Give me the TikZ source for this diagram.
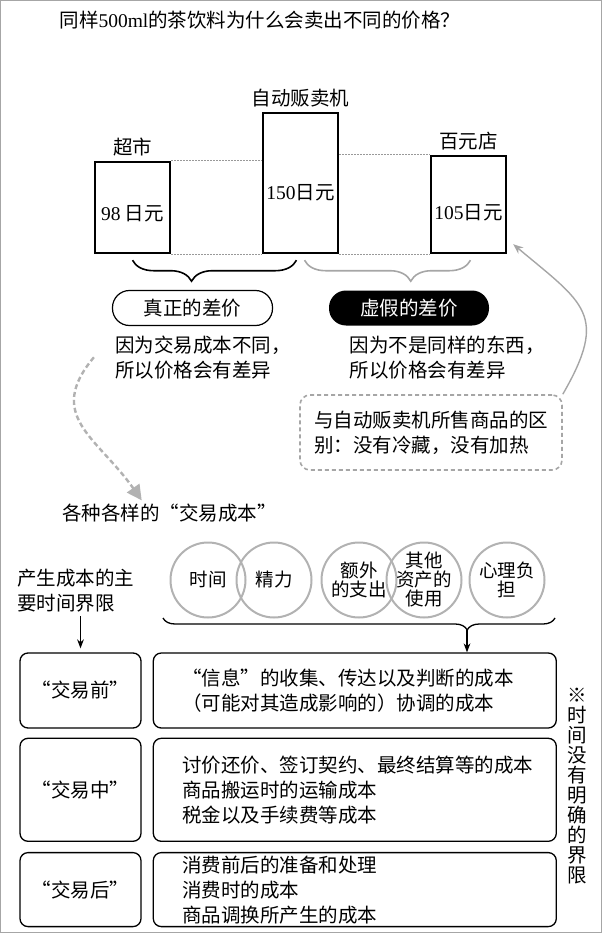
\documentclass[tikz,border=0pt]{standalone}
\usepackage{fontspec}
\setmainfont{Noto Sans CJK SC}
\newfontfamily\latin{Liberation Serif}
\usetikzlibrary{positioning}
\usetikzlibrary{arrows.meta}
\usetikzlibrary{decorations.pathreplacing}

\tikzset{
  price/.style={draw, line width=2.4pt, minimum width=75pt, inner sep=0pt},
  pill/.style={rounded corners=17pt, minimum width=160pt, minimum height=35pt, line width=1.2pt},
  note/.style={draw=gray!70, dash pattern=on 4pt off 3pt, line width=1.6pt, rounded corners=10pt, minimum width=262pt, minimum height=75pt, align=left},
  circ/.style={circle, draw=gray!60, line width=2pt, minimum size=75pt, inner sep=-3pt, align=center, on grid, font=\fontsize{18.5}{19}\selectfont},
  stage/.style={draw, rounded corners=8pt, line width=1.3pt, minimum width=121pt},
  costs/.style={draw, rounded corners=8pt, line width=1.3pt, text width=345pt, inner xsep=29pt, inner ysep=0pt, align=left},
  brc/.style={decorate, decoration={brace, mirror, amplitude=#1}},
}

\begin{document}
\begin{tikzpicture}[x=1pt, y=1pt, font=\fontsize{19.5}{25}\selectfont]
\useasboundingbox (0,0) rectangle (602,-933);
\draw[gray!70, line width=1pt] (0.5,-0.5) rectangle (601.5,-932.5);
\node[anchor=west] (title) at (56,-20) {同样{\latin 500ml}的茶饮料为什么会卖出不同的价格？};

\node[price, minimum height=91pt, label={[yshift=-6pt]center:{\latin 98} 日元}] (shop) at (132.5,-207.5) {};
\node[price, minimum height=140pt, label={[yshift=-10pt]center:{\latin 150}日元}] (vending) at (300.5,-183) {};
\node[price, minimum height=97pt, label={[yshift=-8pt]center:{\latin 105}日元}] (dollar) at (468.5,-204.5) {};
\node[above=1pt of shop] {超市};
\node[above=1pt of vending] {自动贩卖机};
\node[above=1pt of dollar] {百元店};
\draw[gray!80, line width=0.9pt, dash pattern=on 1.5pt off 1.5pt] (shop.north east) -- (shop.north east -| vending.west)
  (vending.east |- dollar.north) -- (dollar.north west)
  (shop.south east) -- (vending.south west)
  (vending.south east) -- (dollar.south west);

\draw[brc=21pt, decoration={aspect=0.36}, line width=1.6pt] ([yshift=-6pt]shop.south) -- ([xshift=-4pt,yshift=-6pt]vending.south);
\draw[brc=21pt, decoration={aspect=0.64}, line width=1.6pt, gray!70] ([xshift=4pt,yshift=-6pt]vending.south) -- ([xshift=2pt,yshift=-6pt]dollar.south);

\node[pill, draw] (real) at (192.5,-308) {真正的差价};
\node[pill, fill=black, text=white] (fake) at (409,-308) {虚假的差价};
\node[below=6pt of real.south west, anchor=north west, align=left] (realwhy) {因为交易成本不同，\\所以价格会有差异};
\node[below=6pt of fake.south west, anchor=north west, xshift=18pt, align=left] (fakewhy) {因为不是同样的东西，\\所以价格会有差异};
\node[note] (diff) at (431,-432.5) {与自动贩卖机所售商品的区\\别：没有冷藏，没有加热};
\draw[-{Stealth[length=10pt, width=8pt]}, gray!70, line width=1.4pt] (diff.north east) to[out=60, in=-40, looseness=1.5] ([shift={(6pt,10pt)}]dollar.south east);

\node[anchor=west] (kinds) at (58.7,-513) {各种各样的“交易成本”};
\draw[gray!60, line width=2.4pt, dash pattern=on 5pt off 3pt, -{Triangle[length=15pt, width=15pt]}] ([xshift=-18pt]realwhy.west) to[out=230, in=125, looseness=1.3] ([xshift=83pt]kinds.north west);

\node[anchor=north west, align=left] (bound) at (13.7,-566) {产生成本的主\\要时间界限};
\node[circ] (time) at (208,-580) {时间};
\node[circ, right=66pt of time] (energy) {精力};
\node[circ, right=85pt of energy] (extra) {额外\\的支出};
\node[circ, right=65pt of extra] (assets) {其他\\资产的\\使用};
\node[circ, right=83pt of assets] (mind) {心理负\\担};
\coordinate (bl) at (163,-618);
\coordinate (br) at (555,-618);
\coordinate (tip) at (467,-630);
\draw[brc=12pt, decoration={aspect=0.776}, line width=1.3pt] (bl) -- (br);

\node[stage, minimum height=75pt] (pre_l) at (80.5,-690.5) {“交易前”};
\node[costs, minimum height=75pt, right=11pt of pre_l] (pre_r) {“信息”的收集、传达以及判断的成本\\（可能对其造成影响的）协调的成本};
\node[stage, minimum height=103pt, below=9pt of pre_l] (mid_l) {“交易中”};
\node[costs, minimum height=103pt, right=11pt of mid_l] (mid_r) {讨价还价、签订契约、最终结算等的成本\\商品搬运时的运输成本\\税金以及手续费等成本};
\node[stage, minimum height=74pt, below=10pt of mid_l] (post_l) {“交易后”};
\node[costs, minimum height=74pt, right=11pt of post_l] (post_r) {消费前后的准备和处理\\消费时的成本\\商品调换所产生的成本};
\node[align=center, font=\fontsize{19.5}{20}\selectfont] (vnote) at (577,-786) {※\\时\\间\\没\\有\\明\\确\\的\\界\\限};

\draw[-{Stealth[length=9pt]}, line width=1.2pt] (pre_l.north |- bound.south) -- ([yshift=4pt]pre_l.north);
\draw[-{Stealth[length=9pt]}, line width=1.2pt] (tip) -- (tip |- pre_r.north);
\end{tikzpicture}
\end{document}
